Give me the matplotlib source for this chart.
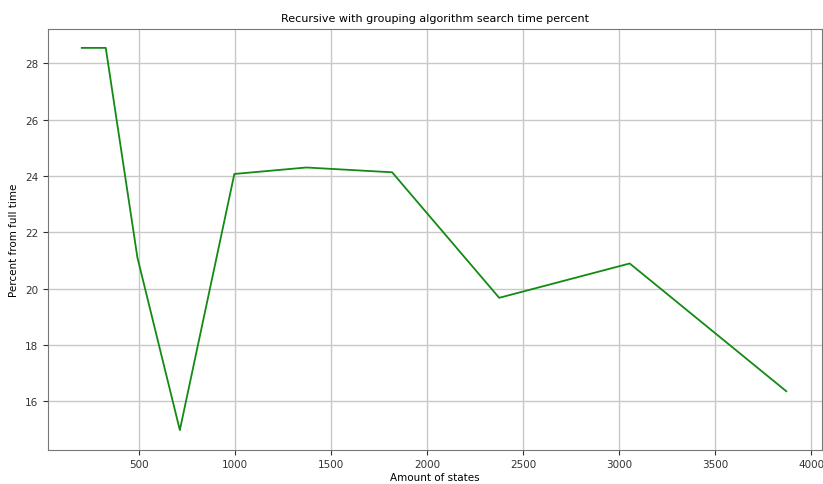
import matplotlib
matplotlib.use("Agg")
import matplotlib.pyplot as plt

# Amount of states and search time percent
states = [200, 325, 490, 711, 995, 1370, 1817, 2375, 3055, 3871]
percent = [28.55, 28.55, 21.1, 14.97, 24.07, 24.3, 24.13, 19.67, 20.89, 16.35]

fig = plt.figure(figsize=(8.23, 4.85), dpi=100)
ax = fig.add_axes([0.0583, 0.0711, 0.9405, 0.867])

ax.plot(states, percent, color="#138a13", linewidth=1.3)
ax.set_xlim(24, 4057)
ax.set_ylim(14.28, 29.22)
ax.set_xticks([500, 1000, 1500, 2000, 2500, 3000, 3500, 4000])
ax.set_yticks([16, 18, 20, 22, 24, 26, 28])
ax.tick_params(labelsize=7.5, colors="#333333")
ax.grid(True, color="#c8c8c8", linewidth=1)

ax.set_title("Recursive with grouping algorithm search time percent", fontsize=8)
ax.set_xlabel("Amount of states", fontsize=7.5, labelpad=2)
ax.set_ylabel("Percent from full time", fontsize=7.5)

for s in ax.spines.values():
    s.set_color("#777777")

fig.savefig("out.png", dpi=100)
